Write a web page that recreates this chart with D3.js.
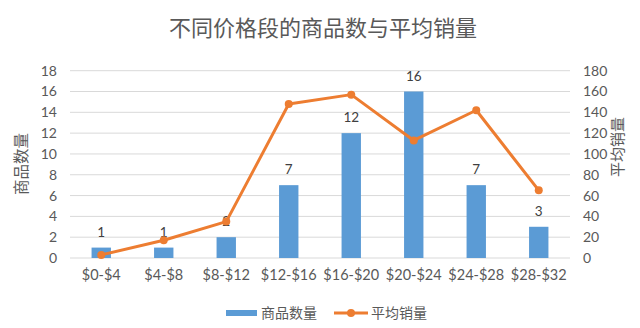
<!DOCTYPE html>
<html>
<head>
<meta charset="utf-8">
<script src="https://cdn.jsdelivr.net/npm/d3@7"></script>
<style>
  html, body { margin: 0; padding: 0; background: #fff; }
  svg { display: block; }
  text { font-family: Lato, "Noto Sans CJK SC", sans-serif; }
  .cjk { font-family: "Noto Sans CJK SC", sans-serif; }
</style>
</head>
<body>
<svg id="chart" width="640" height="328"></svg>
<script>
// Price bands, number of products in each, and their average sales
const categories = ["$0-$4", "$4-$8", "$8-$12", "$12-$16", "$16-$20", "$20-$24", "$24-$28", "$28-$32"];
const productCounts = [1, 1, 2, 7, 12, 16, 7, 3];
const avgSales = [3, 17, 35, 148, 157, 113, 142, 65];
const leftTicks = [0, 2, 4, 6, 8, 10, 12, 14, 16, 18];
const rightTicks = [0, 20, 40, 60, 80, 100, 120, 140, 160, 180];

const svg = d3.select("#chart");
const plotLeft = 70, plotRight = 570, plotTop = 70.7, plotBottom = 258;

const x = d3.scaleBand().domain(categories).range([plotLeft, plotRight]).paddingInner(0.69).paddingOuter(0.345);
const xc = d3.scaleBand().domain(categories).range([plotLeft, plotRight]);
const yL = d3.scaleLinear().domain([0, 18]).range([plotBottom, plotTop]);
const yR = d3.scaleLinear().domain([0, 180]).range([plotBottom, plotTop]);

// Title
svg.append("text").attr("class", "cjk")
  .attr("x", 323).attr("y", 36).attr("text-anchor", "middle")
  .attr("font-size", 22).attr("fill", "#595959")
  .text("不同价格段的商品数与平均销量");

// Gridlines
svg.append("g").selectAll("line").data(leftTicks).join("line")
  .attr("x1", plotLeft).attr("x2", plotRight)
  .attr("y1", d => yL(d)).attr("y2", d => yL(d))
  .attr("stroke", "#D9D9D9").attr("stroke-width", 1);

// Left axis
const axL = svg.append("g").attr("transform", `translate(${plotLeft},0)`)
  .call(d3.axisLeft(yL).tickValues(leftTicks).tickSize(0).tickPadding(13));
axL.select(".domain").remove();
axL.selectAll("text").attr("font-size", 14).attr("fill", "#595959").style("font-family", "Lato, sans-serif");

// Right axis
const axR = svg.append("g").attr("transform", `translate(${plotRight},0)`)
  .call(d3.axisRight(yR).tickValues(rightTicks).tickSize(0).tickPadding(13));
axR.select(".domain").remove();
axR.selectAll("text").attr("font-size", 14).attr("fill", "#595959").style("font-family", "Lato, sans-serif");

// Bottom axis
const axB = svg.append("g").attr("transform", `translate(0,${plotBottom})`)
  .call(d3.axisBottom(xc).tickSize(0).tickPadding(12));
axB.select(".domain").remove();
axB.selectAll("text").attr("font-size", 14.5).attr("fill", "#595959").style("font-family", "Lato, sans-serif");

// Axis titles
svg.append("text").attr("class", "cjk")
  .attr("transform", `translate(27,164) rotate(-90)`)
  .attr("text-anchor", "middle").attr("font-size", 15.5).attr("fill", "#595959")
  .text("商品数量");
svg.append("text").attr("class", "cjk")
  .attr("transform", `translate(623,147) rotate(-90)`)
  .attr("text-anchor", "middle").attr("font-size", 15).attr("fill", "#595959")
  .text("平均销量");

// Bars
svg.append("g").selectAll("rect").data(categories).join("rect")
  .attr("x", d => x(d)).attr("width", x.bandwidth())
  .attr("y", (d, i) => yL(productCounts[i]))
  .attr("height", (d, i) => yL(0) - yL(productCounts[i]))
  .attr("fill", "#5B9BD5");

// Bar value labels
svg.append("g").selectAll("text").data(categories).join("text")
  .attr("x", d => x(d) + x.bandwidth() / 2)
  .attr("y", (d, i) => yL(productCounts[i]) - 11)
  .attr("text-anchor", "middle").attr("font-size", 13.5).attr("fill", "#404040")
  .style("font-family", "Lato, sans-serif")
  .text((d, i) => productCounts[i]);

// Average sales line
const line = d3.line().x((d, i) => xc(categories[i]) + xc.bandwidth() / 2).y(d => yR(d));
svg.append("path").datum(avgSales).attr("d", line)
  .attr("fill", "none").attr("stroke", "#ED7D31").attr("stroke-width", 3)
  .attr("stroke-linejoin", "round");
svg.append("g").selectAll("circle").data(avgSales).join("circle")
  .attr("cx", (d, i) => xc(categories[i]) + xc.bandwidth() / 2)
  .attr("cy", d => yR(d)).attr("r", 4).attr("fill", "#ED7D31");

// Legend
const lg = svg.append("g");
lg.append("rect").attr("x", 226).attr("y", 310).attr("width", 31).attr("height", 6).attr("fill", "#5B9BD5");
lg.append("text").attr("class", "cjk").attr("x", 261).attr("y", 318)
  .attr("font-size", 14).attr("fill", "#595959").text("商品数量");
lg.append("line").attr("x1", 334).attr("x2", 368).attr("y1", 313).attr("y2", 313)
  .attr("stroke", "#ED7D31").attr("stroke-width", 3);
lg.append("circle").attr("cx", 351).attr("cy", 313).attr("r", 4).attr("fill", "#ED7D31");
lg.append("text").attr("class", "cjk").attr("x", 371).attr("y", 318)
  .attr("font-size", 14).attr("fill", "#595959").text("平均销量");
</script>
</body>
</html>
